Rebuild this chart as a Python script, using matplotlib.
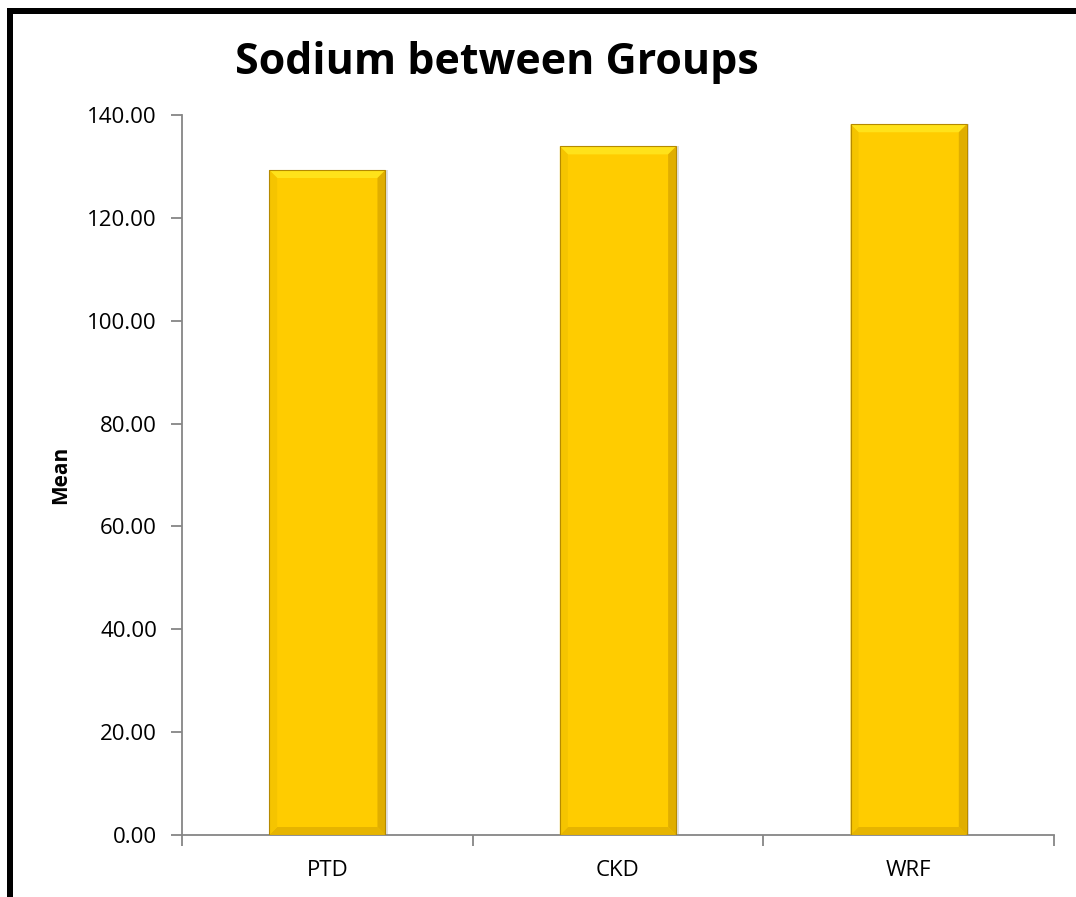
import matplotlib
matplotlib.use("Agg")
import matplotlib.pyplot as plt
from matplotlib.patches import Polygon, Rectangle
import numpy as np

categories = ["PTD", "CKD", "WRF"]
means = [129.3, 133.9, 138.2]
yticks = [0, 20, 40, 60, 80, 100, 120, 140]

plt.rcParams['font.family'] = ['Open Sans', 'DejaVu Sans']

W, H = 1076, 897
fig = plt.figure(figsize=(W / 100, H / 100), dpi=100)
ax = fig.add_axes([182 / W, 1 - 835 / H, (1054 - 182) / W, (835 - 115) / H])

x = np.arange(len(categories))
bars = ax.bar(x, means, width=0.4, color="#FFCC00", edgecolor="none", zorder=2)

ax.set_xlim(-0.5, len(categories) - 0.5)
ax.set_ylim(0, 140)
ax.set_yticks(yticks)
ax.set_yticklabels([f"{v:.2f}" for v in yticks], fontsize=16)
ax.set_xticks(x)
ax.set_xticklabels(categories, fontsize=16)
ax.tick_params(axis='x', length=0, pad=18)
ax.set_xticks(np.arange(-0.5, len(categories)), minor=True)
ax.tick_params(axis='x', which='minor', length=8, color="#868686", width=1.3)
ax.tick_params(axis='y', length=8, color="#868686", width=1.3, pad=10)
for s in ["top", "right"]:
    ax.spines[s].set_visible(False)
for s in ["left", "bottom"]:
    ax.spines[s].set_color("#868686")
    ax.spines[s].set_linewidth(1.3)

ax.set_ylabel("Mean", fontsize=15, fontweight="bold", labelpad=12)

# bevel effect on bars
fig.canvas.draw()
inv = ax.transData.inverted()
p0 = inv.transform((0, 0))
p1 = inv.transform((8, 8))
bx = p1[0] - p0[0]
by = p1[1] - p0[1]
sx = inv.transform((4, 0))[0] - p0[0]
for b in bars:
    x0, w, h = b.get_x(), b.get_width(), b.get_height()
    x1 = x0 + w
    ax.add_patch(Rectangle((x1, 0), sx * 0.6, h, color="#000000", alpha=0.12, zorder=1, lw=0))
    ax.add_patch(Polygon([(x0, h), (x1, h), (x1 - bx, h - by), (x0 + bx, h - by)],
                         closed=True, color="#FFE21A", zorder=3, lw=0))
    ax.add_patch(Polygon([(x0, 0), (x1, 0), (x1 - bx, by), (x0 + bx, by)],
                         closed=True, color="#E6B400", zorder=3, lw=0))
    ax.add_patch(Polygon([(x0, 0), (x0, h), (x0 + bx, h - by), (x0 + bx, by)],
                         closed=True, color="#F5C400", zorder=3, lw=0))
    ax.add_patch(Polygon([(x1, 0), (x1, h), (x1 - bx, h - by), (x1 - bx, by)],
                         closed=True, color="#E0AE00", zorder=3, lw=0))
    ax.add_patch(Rectangle((x0, 0), w, h, fill=False, edgecolor="#B58A00", lw=0.8, zorder=4))

fig.text(497 / W, 1 - 62 / H, "Sodium between Groups", ha="center", va="center",
         fontsize=31, fontweight="bold")

# black frame (top and left)
fig.add_artist(Rectangle((7 / W, 0), 6 / W, 1 - 8 / H, transform=fig.transFigure,
                         color="black", lw=0))
fig.add_artist(Rectangle((7 / W, 1 - 14 / H), 1, 6 / H, transform=fig.transFigure,
                         color="black", lw=0))

fig.savefig("out.png", dpi=100, facecolor="white")
